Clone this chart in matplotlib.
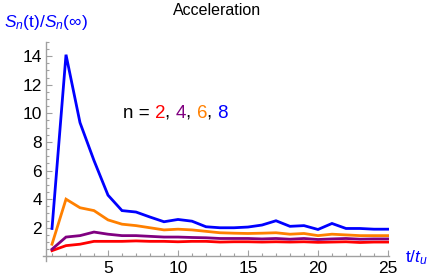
import matplotlib
matplotlib.use("Agg")
import matplotlib.pyplot as plt
from matplotlib.ticker import MultipleLocator

plt.rcParams['font.family'] = ['Liberation Sans', 'DejaVu Sans']
plt.rcParams['mathtext.fontset'] = 'custom'
plt.rcParams['mathtext.rm'] = 'Liberation Sans'
plt.rcParams['mathtext.it'] = 'Liberation Sans:italic'

t = list(range(1, 26))
s2 = [0.4, 0.75, 0.85, 1.05, 1.05, 1.05, 1.08, 1.05, 1.05, 1.02, 1.05, 1.05, 1.0,
      1.02, 1.02, 1.0, 1.02, 1.0, 1.02, 0.98, 1.0, 1.02, 0.97, 1.0, 1.0]
s4 = [0.5, 1.35, 1.45, 1.7, 1.55, 1.45, 1.45, 1.4, 1.35, 1.35, 1.32, 1.3, 1.25,
      1.25, 1.25, 1.22, 1.25, 1.2, 1.25, 1.18, 1.22, 1.25, 1.2, 1.22, 1.22]
s6 = [0.85, 4.0, 3.4, 3.2, 2.55, 2.25, 2.15, 2.0, 1.85, 1.9, 1.85, 1.75, 1.65,
      1.62, 1.6, 1.62, 1.65, 1.55, 1.6, 1.45, 1.55, 1.5, 1.45, 1.45, 1.45]
s8 = [1.95, 14.1, 9.35, 6.7, 4.28, 3.2, 3.1, 2.75, 2.42, 2.58, 2.46, 2.07, 2.0,
      2.0, 2.05, 2.19, 2.49, 2.1, 2.15, 1.88, 2.3, 1.95, 1.95, 1.9, 1.9]

series = [s2, s4, s6, s8]
labels = ['2', '4', '6', '8']
colors = ['#ff0000', '#800080', '#ff8000', '#0000ff']

fig = plt.figure(figsize=(4.29, 2.77), dpi=100)
ax = fig.add_axes([0.100, 0.059, 0.806, 0.790])

for s, c in zip(series, colors):
    ax.plot(t, s, color=c, lw=2.0, solid_joinstyle='miter')

ax.set_xlim(0.35, 25.05)
ax.set_ylim(-0.3, 15.0)
ax.spines['left'].set_position(('data', 0.6))
ax.spines['bottom'].set_position(('data', 0))
ax.spines['top'].set_visible(False)
ax.spines['right'].set_visible(False)
for sp in ['left', 'bottom']:
    ax.spines[sp].set_color('#a0a0a0')
    ax.spines[sp].set_linewidth(1.0)

ax.xaxis.set_major_locator(MultipleLocator(5))
ax.xaxis.set_minor_locator(MultipleLocator(1))
ax.yaxis.set_minor_locator(MultipleLocator(0.5))
ax.set_yticks([2, 4, 6, 8, 10, 12, 14])
ax.tick_params(which='both', direction='in', color='#a0a0a0', width=0.8,
               labelsize=12.5, pad=3)
ax.tick_params(which='major', length=4)
ax.tick_params(which='minor', length=2.5)

fig.text(0.505, 0.99, 'Acceleration', ha='center', va='top', fontsize=11.5)
fig.text(0.01, 0.92, r'$S_n$(t)/$S_n$($\infty$)', color='#0000ff',
         ha='left', va='center', fontsize=12.5)
fig.text(0.945, 0.07, r't/$t_u$', color='#0000ff', ha='left', va='center',
         fontsize=12.5)

# legend-like text
x0, y0 = 0.287, 0.592
parts = [('n = ', 'black'), ('2', colors[0]), (', ', 'black'), ('4', colors[1]),
         (', ', 'black'), ('6', colors[2]), (', ', 'black'), ('8', colors[3])]
renderer = fig.canvas.get_renderer()
x = x0
for txt, c in parts:
    tt = fig.text(x, y0, txt, color=c, fontsize=13.5, ha='left', va='center')
    bb = tt.get_window_extent(renderer=renderer)
    x += bb.width / fig.bbox.width

fig.savefig('out.png', dpi=100)
